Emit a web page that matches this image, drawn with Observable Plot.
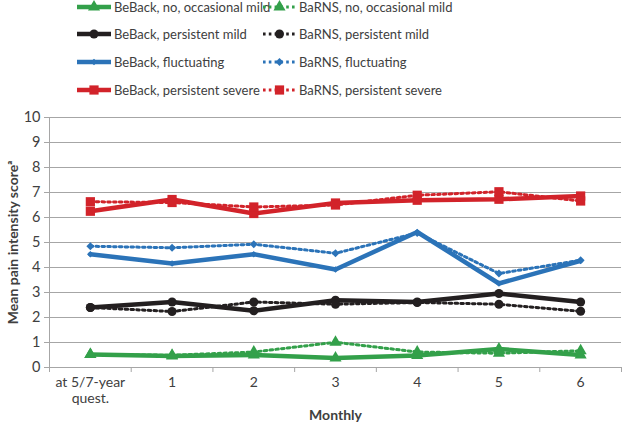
<!DOCTYPE html>
<html>
<head>
<meta charset="utf-8">
<script src="https://cdn.jsdelivr.net/npm/d3@7"></script>
<script src="https://cdn.jsdelivr.net/npm/@observablehq/plot@0.6"></script>
<style>
  body { margin: 0; background: #fff; font-family: Lato, "Open Sans", sans-serif; }
  #legend { position: relative; width: 622px; height: 104px; }
  .item { position: absolute; height: 16px; display: flex; align-items: center; font-size: 13px; color: #404040; white-space: nowrap; }
  .item svg { margin-right: 3px; }
</style>
</head>
<body>
<div id="legend"></div>
<div id="chart"></div>
<script>
// Categories (x)
const categories = ["at 5/7-year\nquest.", "1", "2", "3", "4", "5", "6"];
const yTicks = [0, 1, 2, 3, 4, 5, 6, 7, 8, 9, 10];

// Series values
const beBackNoOcc   = [0.52, 0.46, 0.50, 0.38, 0.48, 0.74, 0.50];
const barnsNoOcc    = [0.52, 0.49, 0.62, 1.01, 0.62, 0.57, 0.67];
const beBackPersMild = [2.40, 2.62, 2.27, 2.69, 2.62, 2.96, 2.62];
const barnsPersMild  = [2.40, 2.24, 2.62, 2.53, 2.60, 2.53, 2.25];
const beBackFluct   = [4.53, 4.16, 4.53, 3.92, 5.42, 3.36, 4.27];
const barnsFluct    = [4.85, 4.79, 4.93, 4.57, 5.38, 3.76, 4.29];
const beBackPersSev = [6.25, 6.72, 6.16, 6.58, 6.69, 6.73, 6.86];
const barnsPersSev  = [6.63, 6.60, 6.42, 6.50, 6.89, 7.03, 6.66];

const green = "#33a04a", black = "#231f20", blue = "#2b73b8", red = "#d2232a";

const series = [
  {name: "BeBack, no, occasional mild", values: beBackNoOcc, color: green, symbol: "triangle", r: 4.5, dotted: false},
  {name: "BaRNS, no, occasional mild", values: barnsNoOcc, color: green, symbol: "triangle", r: 4.5, dotted: true},
  {name: "BeBack, persistent mild", values: beBackPersMild, color: black, symbol: "circle", r: 4.5, dotted: false},
  {name: "BaRNS, persistent mild", values: barnsPersMild, color: black, symbol: "circle", r: 4.5, dotted: true},
  {name: "BeBack, fluctuating", values: beBackFluct, color: blue, symbol: "diamond2", r: 3, dotted: false},
  {name: "BaRNS, fluctuating", values: barnsFluct, color: blue, symbol: "diamond2", r: 3.6, dotted: true},
  {name: "BeBack, persistent severe", values: beBackPersSev, color: red, symbol: "square", r: 5.2, dotted: false},
  {name: "BaRNS, persistent severe", values: barnsPersSev, color: red, symbol: "square", r: 5.2, dotted: true}
];

// Legend
const legend = document.getElementById("legend");
const symPath = (sym, r) => d3.symbol(
  {triangle: d3.symbolTriangle, circle: d3.symbolCircle, diamond2: d3.symbolDiamond2, square: d3.symbolSquare}[sym],
  Math.PI * r * r)();
series.forEach((s, i) => {
  const row = Math.floor(i / 2), col = i % 2;
  const div = document.createElement("div");
  div.className = "item";
  div.style.top = (row === 0 ? -1 : row * 28.1 - 2) + "px";
  div.style.left = (col === 0 ? 77 : 263) + "px";
  const w = col === 0 ? 34 : 33;
  div.innerHTML = `<svg width="${w}" height="16">
    <line x1="0" x2="${w}" y1="8" y2="8" stroke="${s.color}" stroke-width="${s.dotted ? 3 : 4.5}" ${s.dotted ? 'stroke-dasharray="2.6,3.2"' : ''}/>
    <path transform="translate(${w/2},8)" d="${symPath(s.symbol, s.r)}" fill="${s.color}"/>
  </svg><span>${s.name}</span>`;
  legend.appendChild(div);
});

const marks = [
  Plot.gridY(yTicks, {stroke: "#a6a6a6", strokeOpacity: 1}),
  Plot.ruleX([-0.5], {stroke: "#a6a6a6"}),
  Plot.axisY(yTicks, {tickSize: 5, tickPadding: 4, stroke: "#a6a6a6", fill: "#404040", fontSize: 14.5, label: null}),
  Plot.axisX(d3.range(-0.5, 7, 1), {tickSize: 5, tickFormat: () => "", stroke: "#a6a6a6", label: null}),
  Plot.axisX(d3.range(0, 7), {tickSize: 0, tickPadding: 8, tickFormat: i => categories[i], fill: "#404040", fontSize: 14, lineHeight: 1.15, label: null}),
  Plot.text(["Mean pain intensity score\u1D43"], {frameAnchor: "left", textAnchor: "middle", rotate: -90, dx: -36, fontWeight: "bold", fontSize: 14, fill: "#404040"}),
  Plot.text(["Monthly"], {frameAnchor: "bottom", dy: 52, fontWeight: "bold", fontSize: 14, fill: "#404040"})
];

for (const s of series) {
  const data = s.values.map((v, i) => ({i, v}));
  marks.push(Plot.line(data, {
    x: "i", y: "v", stroke: s.color,
    strokeWidth: s.dotted ? 3 : 4.5,
    strokeDasharray: s.dotted ? "2.6,3.2" : null,
    strokeLinejoin: "miter"
  }));
  marks.push(Plot.dot(data, {x: "i", y: "v", symbol: () => s.symbol, r: s.r, fill: s.color, stroke: "none"}));
}

const chart = Plot.plot({
  width: 622,
  height: 333,
  marginLeft: 49,
  marginRight: 1,
  marginTop: 13,
  marginBottom: 70,
  style: {fontFamily: "Lato, 'Open Sans', sans-serif", background: "#fff"},
  x: {type: "linear", domain: [-0.5, 6.5], axis: null},
  y: {domain: [0, 10], axis: null},
  symbol: {type: "identity"},
  marks
});
document.getElementById("chart").appendChild(chart);
</script>
</body>
</html>
